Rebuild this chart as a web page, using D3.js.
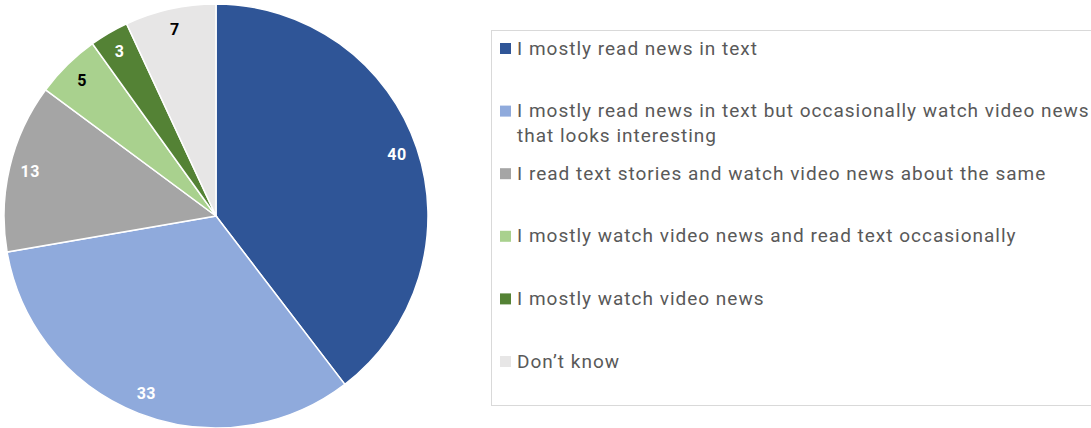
<!DOCTYPE html>
<html>
<head>
<meta charset="utf-8">
<script src="https://cdn.jsdelivr.net/npm/d3@7"></script>
<style>
  body { margin: 0; background: #fff; }
  svg { display: block; }
</style>
</head>
<body>
<svg width="1091" height="428"></svg>
<script>
const categories = [
    'I mostly read news in text',
    'I mostly read news in text but occasionally watch video news|that looks interesting',
    'I read text stories and watch video news about the same',
    'I mostly watch video news and read text occasionally',
    'I mostly watch video news',
    'Don\u2019t know'
];
const values = [40, 33, 13, 5, 3, 7];
const colors = ['#2F5597', '#8FAADC', '#A5A5A5', '#A9D18E', '#548235', '#E7E6E6'];
const labelColors = ['#fff', '#fff', '#fff', '#000', '#fff', '#000'];

const svg = d3.select('svg');
const cx = 216, cy = 216, radius = 212;

const data = values.map((v, i) => ({ name: categories[i], value: v, i: i }));

const pie = d3.pie()
    .value(d => d.value)
    .sort(null);

const arc = d3.arc()
    .innerRadius(0)
    .outerRadius(radius);

const labelArc = d3.arc()
    .innerRadius(191)
    .outerRadius(191);

const pieGroup = svg.append('g')
    .attr('transform', `translate(${cx},${cy})`);

pieGroup.selectAll('path')
    .data(pie(data))
    .enter()
    .append('path')
    .attr('d', arc)
    .attr('fill', d => colors[d.data.i])
    .attr('stroke', '#fff')
    .attr('stroke-width', 1.5);

pieGroup.selectAll('text')
    .data(pie(data))
    .enter()
    .append('text')
    .attr('transform', d => `translate(${labelArc.centroid(d)})`)
    .attr('text-anchor', 'middle')
    .attr('dy', '0.35em')
    .attr('font-family', 'Roboto, sans-serif')
    .attr('font-weight', 'bold')
    .attr('font-size', 16)
    .attr('letter-spacing', 0.5)
    .attr('fill', d => labelColors[d.data.i])
    .text(d => d.data.value);

// legend
svg.append('rect')
    .attr('x', 491.5)
    .attr('y', 30.5)
    .attr('width', 620)
    .attr('height', 375)
    .attr('fill', 'none')
    .attr('stroke', '#D9D9D9')
    .attr('stroke-width', 1);

const legendY = d3.scalePoint()
    .domain(d3.range(categories.length))
    .range([48, 361]);

const legend = svg.append('g')
    .selectAll('g')
    .data(data)
    .enter()
    .append('g')
    .attr('transform', d => `translate(500,${legendY(d.i)})`);

legend.append('rect')
    .attr('x', 0)
    .attr('y', -5)
    .attr('width', 11)
    .attr('height', 11)
    .attr('fill', d => colors[d.i]);

legend.append('text')
    .attr('x', 17)
    .attr('font-family', 'Roboto, sans-serif')
    .attr('font-size', 19)
    .attr('letter-spacing', 1)
    .attr('fill', '#595959')
    .selectAll('tspan')
    .data(d => d.name.split('|'))
    .enter()
    .append('tspan')
    .attr('x', 17)
    .attr('y', (d, j) => j * 25)
    .attr('dy', '0.35em')
    .text(d => d);
</script>
</body>
</html>
